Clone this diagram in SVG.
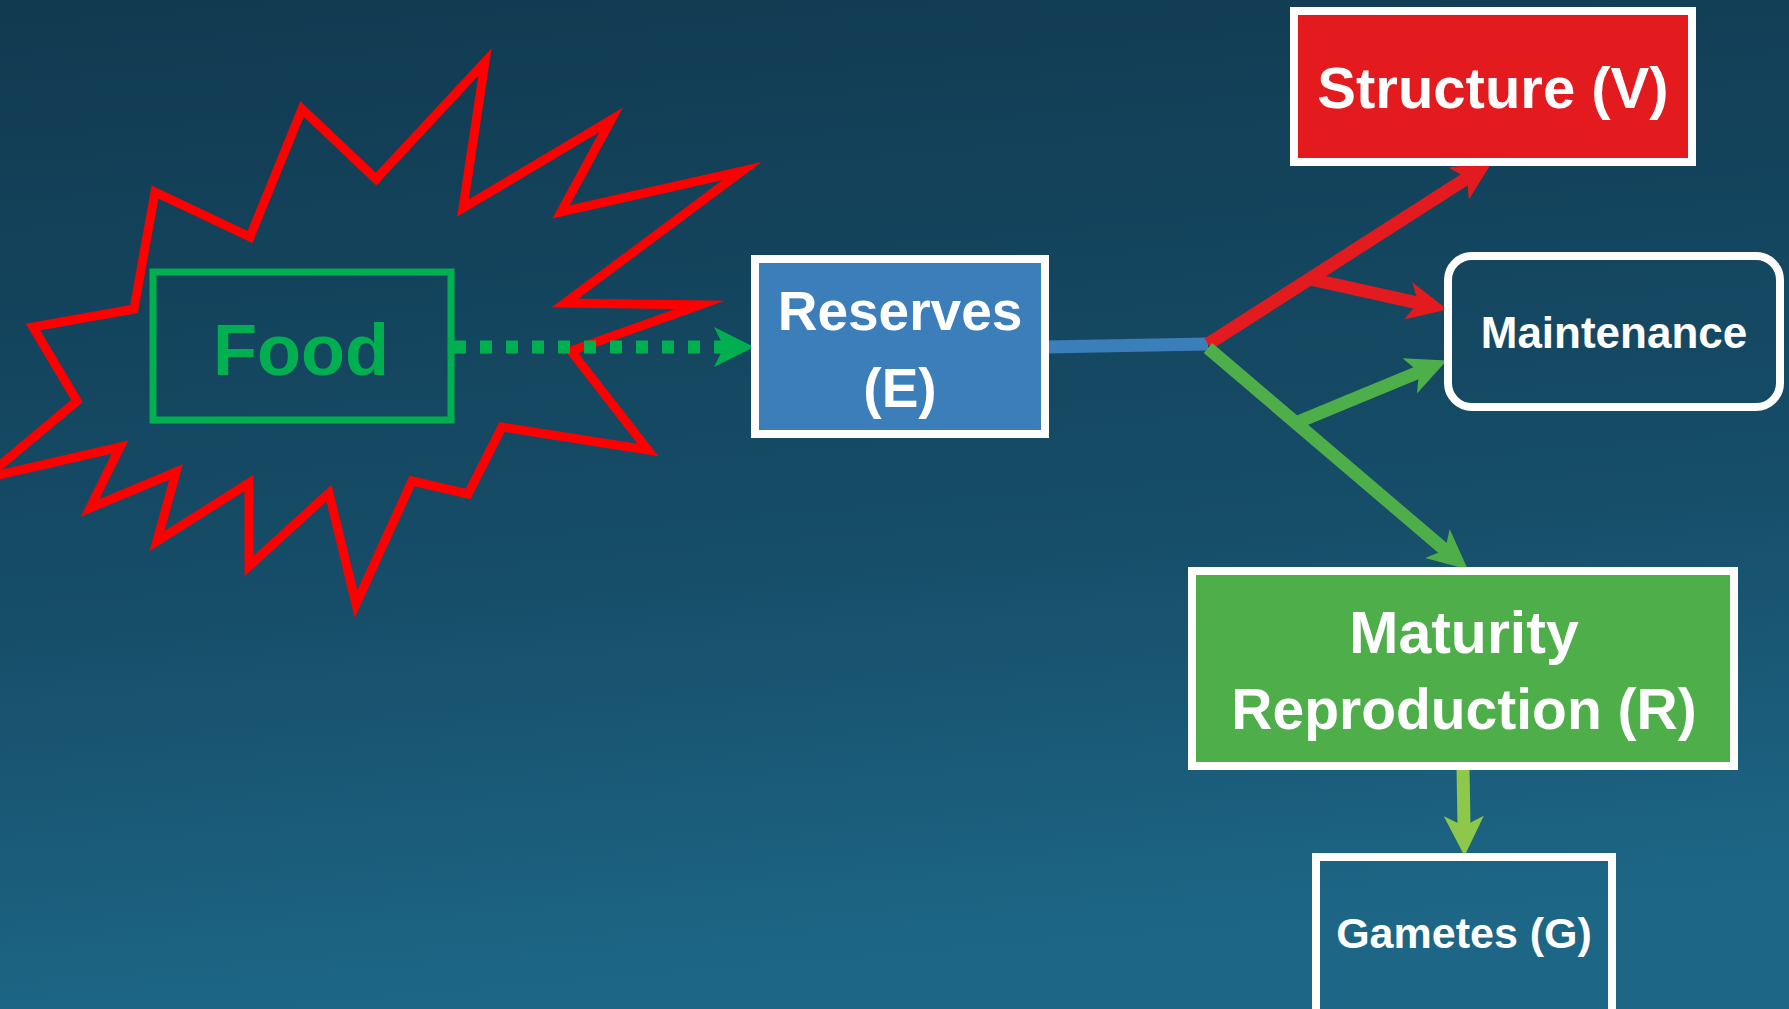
<svg xmlns="http://www.w3.org/2000/svg" width="1789" height="1009" viewBox="0 0 1789 1009">
  <defs>
    <linearGradient id="bg" x1="0" y1="0" x2="0.15" y2="1">
      <stop offset="0" stop-color="#113A50"/>
      <stop offset="0.6" stop-color="#164D68"/>
      <stop offset="1" stop-color="#1D6686"/>
    </linearGradient>
    <!-- arrowheads: the line ends at the notch, tip sits 30px beyond it -->
    <marker id="head-red" markerUnits="userSpaceOnUse" orient="auto" refX="0" refY="0" markerWidth="60" markerHeight="60" overflow="visible">
      <path d="M30,0 L-10,-19 L0,0 L-10,19 Z" fill="#E31B1E"/>
    </marker>
    <marker id="head-green" markerUnits="userSpaceOnUse" orient="auto" refX="0" refY="0" markerWidth="60" markerHeight="60" overflow="visible">
      <path d="M30,0 L-10,-19 L0,0 L-10,19 Z" fill="#4EAE4A"/>
    </marker>
    <marker id="head-food" markerUnits="userSpaceOnUse" orient="auto" refX="0" refY="0" markerWidth="60" markerHeight="60" overflow="visible">
      <path d="M30,0 L-10,-20 L0,0 L-10,20 Z" fill="#00B050"/>
    </marker>
    <marker id="head-lime" markerUnits="userSpaceOnUse" orient="auto" refX="0" refY="0" markerWidth="60" markerHeight="60" overflow="visible">
      <path d="M30,0 L-10,-20 L0,0 L-10,20 Z" fill="#8DC84B"/>
    </marker>
  </defs>
  <style>
    .label { font-family: "Liberation Sans", Arial, sans-serif; font-weight: bold; fill: #FFFFFF; text-anchor: middle; }
    .box { stroke: #FFFFFF; stroke-width: 8; }
    .flow { fill: none; stroke-width: 13; stroke-linecap: butt; }
  </style>

  <rect x="0" y="0" width="1789" height="1009" fill="url(#bg)"/>

  <!-- burst around the food source -->
  <g id="burst">
    <polygon points="-15,478 77,401 33,327 134,309 155,192 250,237 302,109 376,179 485,62 463,208 611,120 561,212 742,171 565,303 700,305 571,351 648,450 502,427 468,494 412,481 356,604 329,493 249,566 249,483 157,541 176,472 90,508 120,447"
             fill="none" stroke="#FF0000" stroke-width="9" stroke-linejoin="miter" stroke-miterlimit="10"/>
  </g>

  <!-- connectors -->
  <g id="connectors">
    <line class="flow" x1="454" y1="347" x2="724" y2="347" stroke="#00B050" stroke-dasharray="12 14" marker-end="url(#head-food)"/>
    <line class="flow" x1="1045" y1="347" x2="1208" y2="344" stroke="#3A7EBA"/>
    <line class="flow" x1="1208" y1="344" x2="1467" y2="178" stroke="#E31B1E" marker-end="url(#head-red)"/>
    <line class="flow" x1="1310" y1="279" x2="1418" y2="303" stroke="#E31B1E" marker-end="url(#head-red)"/>
    <line class="flow" x1="1208" y1="348" x2="1445" y2="550" stroke="#4EAE4A" marker-end="url(#head-green)"/>
    <line class="flow" x1="1298" y1="422" x2="1419" y2="372" stroke="#4EAE4A" marker-end="url(#head-green)"/>
    <line class="flow" x1="1463" y1="767" x2="1464" y2="826" stroke="#8DC84B" stroke-width="14" marker-end="url(#head-lime)"/>
  </g>

  <g id="food">
    <rect x="153" y="272" width="298" height="148" fill="none" stroke="#00B050" stroke-width="7"/>
    <text x="301" y="375" font-family="Liberation Sans, Arial, sans-serif" font-weight="bold" font-size="72" fill="#00B050" text-anchor="middle">Food</text>
  </g>

  <g id="reserves">
    <rect class="box" x="755" y="259" width="290" height="175" fill="#3B7EBA"/>
    <text class="label" x="900" y="330" font-size="55">Reserves</text>
    <text class="label" x="900" y="407" font-size="55">(E)</text>
  </g>

  <g id="structure">
    <rect class="box" x="1294" y="11" width="398" height="151" fill="#E31B1E"/>
    <text class="label" x="1493" y="108" font-size="58">Structure (V)</text>
  </g>

  <g id="maintenance">
    <rect class="box" x="1448" y="256" width="332" height="151" rx="24" ry="24" fill="none"/>
    <text class="label" x="1614" y="348" font-size="44">Maintenance</text>
  </g>

  <g id="maturity">
    <rect class="box" x="1192" y="571" width="542" height="195" fill="#4EAE4A"/>
    <text class="label" x="1464" y="653" font-size="59">Maturity</text>
    <text class="label" x="1464" y="729" font-size="57">Reproduction (R)</text>
  </g>

  <g id="gametes">
    <rect class="box" x="1316" y="857" width="296" height="180" fill="none"/>
    <text class="label" x="1464" y="948" font-size="43">Gametes (G)</text>
  </g>
</svg>
